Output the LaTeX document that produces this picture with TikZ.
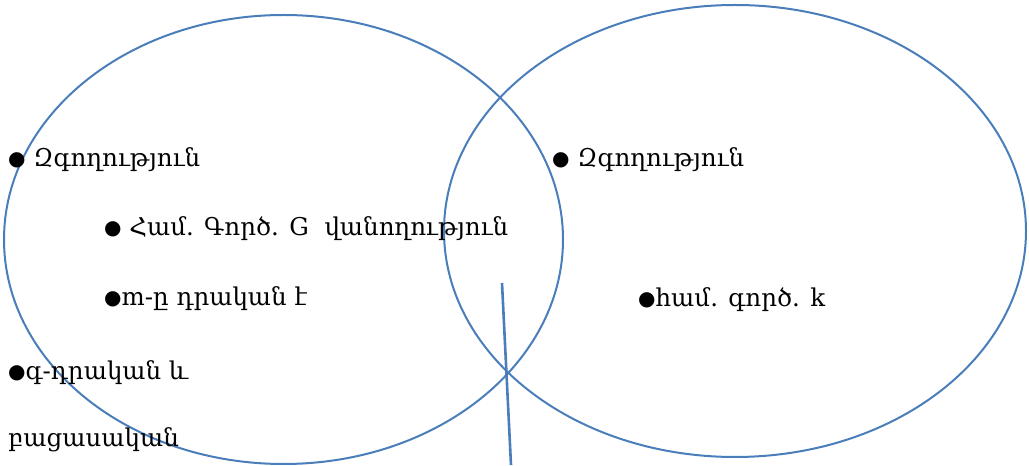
\documentclass[tikz,border=0pt]{standalone}
\usepackage{fontspec}
\setmainfont{DejaVu Serif}
\usetikzlibrary{shapes.geometric}
\definecolor{setblue}{HTML}{4A7EBB}
\newcommand{\blt}{\raisebox{1.5pt}{\fontsize{20}{22}\selectfont ●}}

\begin{document}
\begin{tikzpicture}[x=1pt, y=1pt,
    set/.style={ellipse, draw=setblue, line width=2pt, inner sep=0pt},
    cut/.style={draw=setblue, line width=2.6pt},
    item/.style={anchor=base west, inner sep=0pt, font=\fontsize{24.5}{26}\selectfont}]
\useasboundingbox (0,0) rectangle (1029,466);
\node[set, minimum width=559, minimum height=449] (lset) at (283.5,226.5) {};
\node[set, minimum width=582, minimum height=452] (rset) at (735,235) {};
\coordinate (ctop) at (502,183);
\coordinate (cbot) at (511,1);
\draw[cut] (ctop) -- (cbot);
\node[item] (l1) at (8,299) {\blt{} Զգողություն};
\node[item] (l2) at (104,230) {\blt{} Համ. Գործ. G~ վանողություն};
\node[item] (l3) at (104,160) {\blt m-ը դրական է};
\node[item] (l4) at (8,86) {\blt գ-դրական և};
\node[item] (l5) at (8,19) {բացասական};
\node[item] (r1) at (552,299) {\blt{} Զգողություն};
\node[item] (r2) at (638,159) {\blt համ. գործ. k};
\end{tikzpicture}
\end{document}
